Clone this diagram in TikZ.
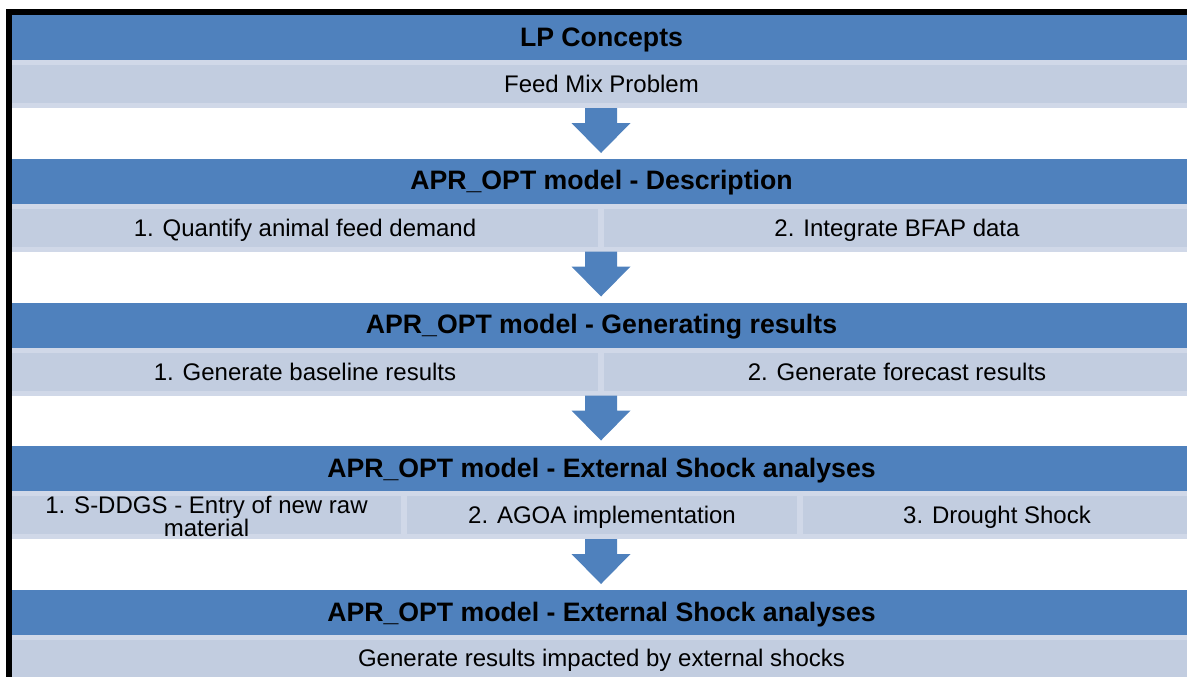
\documentclass[tikz,border=0pt]{standalone}
\usepackage{fontspec}
\setmainfont{Liberation Sans}
\definecolor{hdrblue}{HTML}{4F81BD}
\definecolor{cellfill}{HTML}{C2CDE0}
\definecolor{cellrim}{HTML}{D0D8E8}
\begin{document}
\begin{tikzpicture}[x=0.75pt,y=-0.75pt,
  hdrbar/.style={fill=hdrblue},
  rimbar/.style={fill=cellrim},
  cellbox/.style={fill=cellfill},
  hdrtext/.style={font=\fontsize{20}{24}\selectfont\bfseries, inner sep=0pt,
    text height=0.72em, text depth=0pt, yshift=-3pt},
  celltext/.style={font=\fontsize{18}{21.6}\selectfont, inner sep=0pt,
    text height=0.72em, text depth=0pt, yshift=-3pt},
  twoline/.style={font=\fontsize{18}{17.3}\selectfont, inner sep=0pt, align=center},
  downarrow/.pic={\fill[hdrblue] (-16,0) -- (16,0) -- (16,15) -- (29.5,15)
    -- (0,45) -- (-29.5,15) -- (-16,15) -- cycle;}]
\useasboundingbox (0,0) rectangle (1187,676);
\clip (0,0) rectangle (1187,676);

% outer frame
\draw[line width=4.5pt] (9,700) -- (9,11.5) -- (1200,11.5);

% ---- stage 1
\fill[hdrbar] (12,15) rectangle (1195,60);
\node[hdrtext] (h1) at (601.5,37.5) {LP Concepts};
\fill[rimbar] (12,60) rectangle (1195,108);
\fill[cellbox] (12,65) rectangle (1195,103);
\node[celltext] (s1) at (601.5,84) {Feed Mix Problem};
\coordinate (a1) at (601,108);
\pic at (a1) {downarrow};

% ---- stage 2
\fill[hdrbar] (12,158.5) rectangle (1195,203.5);
\node[hdrtext] (h2) at (601.5,181) {APR\_OPT model - Description};
\fill[rimbar] (12,203.5) rectangle (1195,251.5);
\fill[cellbox] (12,208.5) rectangle (598,246.5);
\fill[cellbox] (604,208.5) rectangle (1195,246.5);
\node[celltext] (s2a) at (305,227.5) {1. Quantify animal feed demand};
\node[celltext] (s2b) at (897,227.5) {2. Integrate BFAP data};
\coordinate (a2) at (601,251.5);
\pic at (a2) {downarrow};

% ---- stage 3
\fill[hdrbar] (12,302.5) rectangle (1195,347.5);
\node[hdrtext] (h3) at (601.5,325) {APR\_OPT model - Generating results};
\fill[rimbar] (12,347.5) rectangle (1195,395.5);
\fill[cellbox] (12,352.5) rectangle (598,390.5);
\fill[cellbox] (604,352.5) rectangle (1195,390.5);
\node[celltext] (s3a) at (305,371.5) {1. Generate baseline results};
\node[celltext] (s3b) at (897,371.5) {2. Generate forecast results};
\coordinate (a3) at (601,395.5);
\pic at (a3) {downarrow};

% ---- stage 4
\fill[hdrbar] (12,446) rectangle (1195,491);
\node[hdrtext] (h4) at (601.5,468.5) {APR\_OPT model - External Shock analyses};
\fill[rimbar] (12,491) rectangle (1195,539);
\fill[cellbox] (12,496) rectangle (401,534);
\fill[cellbox] (407,496) rectangle (797,534);
\fill[cellbox] (803,496) rectangle (1195,534);
\node[twoline] (s4a) at (206.5,516.5) {1. S-DDGS - Entry of new raw\\material};
\node[celltext] (s4b) at (602,515) {2. AGOA implementation};
\node[celltext] (s4c) at (997,515) {3. Drought Shock};
\coordinate (a4) at (601,539);
\pic at (a4) {downarrow};

% ---- stage 5
\fill[hdrbar] (12,590) rectangle (1195,635);
\node[hdrtext] (h5) at (601.5,612.5) {APR\_OPT model - External Shock analyses};
\fill[rimbar] (12,635) rectangle (1195,683);
\fill[cellbox] (12,640) rectangle (1195,678);
\node[celltext] (s5) at (601.5,658) {Generate results impacted by external shocks};
\end{tikzpicture}
\end{document}
